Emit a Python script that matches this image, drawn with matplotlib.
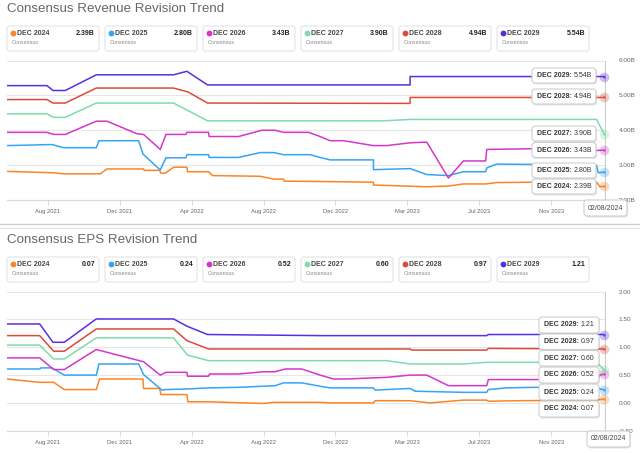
import matplotlib
matplotlib.use('Agg')
import matplotlib.pyplot as plt
from matplotlib.patches import FancyBboxPatch
from matplotlib.lines import Line2D
from matplotlib.transforms import IdentityTransform

# ---------------- data ----------------
SERIES = ['DEC 2024', 'DEC 2025', 'DEC 2026', 'DEC 2027', 'DEC 2028', 'DEC 2029']
COLORS = ['#fa8526', '#35a4f5', '#d636c9', '#7ddcab', '#db4b3a', '#5a2ee0']
X_TICK_LABELS = ['Aug 2021', 'Dec 2021', 'Apr 2022', 'Aug 2022', 'Dec 2022', 'Mar 2023', 'Jul 2023', 'Nov 2023']
X_TICK_POS = [0, 1, 2, 3, 4, 5, 6, 7]
END = 7.73
DATE_LABEL = '02/08/2024'

REV_VALUES = ['2.39B', '2.80B', '3.43B', '3.90B', '4.94B', '5.54B']
EPS_VALUES = ['0.07', '0.24', '0.52', '0.60', '0.97', '1.21']

REV_YTICKS = [2, 3, 4, 5, 6]
REV_YLABELS = ['2.00B', '3.00B', '4.00B', '5.00B', '6.00B']
EPS_YTICKS = [-0.5, 0, 0.5, 1.0, 1.5, 2.0]
EPS_YLABELS = ['-0.50', '0.00', '0.50', '1.00', '1.50', '2.00']

rev_2024_x = [-0.565, 0.083, 0.222, 0.731, 0.824, 1.333, 1.343, 1.556, 1.574, 1.634, 1.750, 1.935, 1.944, 2.236, 2.292, 2.954, 3.139, 3.278, 3.287, 3.787, 4.528, 4.528, 5.269, 5.570, 5.778, 6.088, 6.241, 6.750, 7.630, 7.676, END]
rev_2024_y = [2.82, 2.78, 2.75, 2.75, 2.89, 2.89, 2.85, 2.85, 2.77, 2.77, 2.94, 2.94, 2.81, 2.81, 2.70, 2.68, 2.60, 2.60, 2.54, 2.53, 2.51, 2.43, 2.38, 2.40, 2.46, 2.46, 2.50, 2.51, 2.51, 2.38, 2.39]

rev_2025_x = [-0.565, 0.060, 0.222, 0.676, 0.713, 1.264, 1.324, 1.565, 1.644, 1.921, 1.935, 2.236, 2.245, 2.653, 2.954, 3.139, 3.278, 3.648, 3.787, 3.926, 4.528, 4.528, 5.037, 5.269, 5.570, 5.778, 6.088, 6.102, 6.241, 6.750, 7.630, 7.653, END]
rev_2025_y = [3.56, 3.59, 3.50, 3.50, 3.70, 3.70, 3.32, 2.86, 3.21, 3.21, 3.30, 3.30, 3.22, 3.22, 3.36, 3.36, 3.30, 3.30, 3.22, 3.15, 3.15, 2.87, 2.90, 2.73, 2.70, 2.81, 2.81, 2.92, 3.03, 3.02, 2.99, 2.78, 2.80]

rev_2026_x = [-0.565, -0.009, 0.083, 0.245, 0.676, 0.824, 1.241, 1.333, 1.565, 1.644, 1.921, 1.935, 2.236, 2.245, 2.653, 2.977, 3.162, 3.278, 3.625, 3.787, 3.926, 4.111, 4.528, 4.713, 5.037, 5.269, 5.570, 5.778, 6.088, 6.102, 6.750, 7.630, END]
rev_2026_y = [3.94, 3.94, 3.88, 3.88, 4.26, 4.26, 3.90, 3.88, 3.45, 3.88, 3.88, 3.94, 3.94, 3.82, 3.82, 4.00, 4.00, 3.94, 3.94, 3.82, 3.70, 3.70, 3.56, 3.56, 3.64, 3.66, 2.63, 3.12, 3.12, 3.45, 3.47, 3.42, 3.43]

rev_2027_x = [-0.565, -0.009, 0.083, 0.245, 0.676, 1.750, 2.222, 4.667, 5.037, 7.630, END]
rev_2027_y = [4.47, 4.47, 4.37, 4.37, 4.78, 4.78, 4.27, 4.27, 4.31, 4.31, 3.90]

rev_2028_x = [-0.565, -0.009, 0.074, 0.245, 0.676, 1.750, 1.949, 2.222, 5.037, 5.037, END]
rev_2028_y = [4.88, 4.88, 4.78, 4.78, 5.21, 5.21, 5.10, 4.78, 4.77, 4.94, 4.94]

rev_2029_x = [-0.565, -0.009, 0.074, 0.245, 0.676, 1.750, 1.935, 2.222, 5.037, 5.037, END]
rev_2029_y = [5.28, 5.28, 5.14, 5.14, 5.59, 5.59, 5.69, 5.30, 5.30, 5.54, 5.54]

eps_2024_x = [-0.565, -0.111, 0.083, 0.231, 0.676, 0.722, 1.324, 1.333, 1.556, 1.574, 1.935, 1.949, 2.236, 3.000, 3.139, 3.787, 3.926, 4.528, 4.551, 5.037, 5.315, 5.778, 6.102, 6.125, 6.565, 7.630, END]
eps_2024_y = [0.43, 0.37, 0.37, 0.24, 0.24, 0.43, 0.43, 0.26, 0.26, 0.15, 0.15, 0.02, 0.02, -0.01, 0.01, 0.01, 0.00, 0.00, 0.04, 0.04, 0.00, 0.05, 0.05, 0.03, 0.04, 0.05, 0.07]

eps_2025_x = [-0.565, -0.111, -0.093, 0.060, 0.231, 0.676, 0.713, 1.264, 1.333, 1.588, 1.644, 1.935, 2.236, 2.653, 3.162, 3.278, 3.532, 3.787, 3.926, 4.528, 4.551, 5.037, 5.107, 5.778, 6.102, 6.125, 6.380, 6.750, 7.630, 7.676, END]
eps_2025_y = [0.61, 0.61, 0.63, 0.63, 0.50, 0.50, 0.70, 0.70, 0.51, 0.23, 0.24, 0.25, 0.27, 0.28, 0.31, 0.36, 0.36, 0.30, 0.27, 0.27, 0.23, 0.26, 0.21, 0.19, 0.19, 0.24, 0.27, 0.28, 0.28, 0.25, 0.24]

eps_2026_x = [-0.565, -0.111, 0.083, 0.231, 0.676, 1.333, 1.565, 1.644, 1.935, 1.944, 2.236, 2.250, 2.653, 3.000, 3.162, 3.301, 3.532, 3.787, 3.972, 4.157, 4.713, 5.037, 5.269, 5.570, 6.102, 6.125, 7.630, 7.676, END]
eps_2026_y = [0.81, 0.81, 0.60, 0.60, 0.96, 0.74, 0.50, 0.55, 0.55, 0.48, 0.48, 0.52, 0.52, 0.56, 0.56, 0.61, 0.61, 0.50, 0.43, 0.43, 0.46, 0.50, 0.50, 0.31, 0.31, 0.42, 0.42, 0.50, 0.52]

eps_2027_x = [-0.565, -0.111, 0.083, 0.231, 0.676, 1.750, 1.944, 2.236, 4.713, 5.037, 5.778, 6.102, 7.630, END]
eps_2027_y = [1.04, 1.04, 0.79, 0.79, 1.17, 1.17, 0.86, 0.76, 0.76, 0.70, 0.70, 0.73, 0.73, 0.60]

eps_2028_x = [-0.565, -0.111, 0.083, 0.231, 0.676, 1.750, 1.935, 2.236, 5.037, 5.060, 6.102, 6.125, END]
eps_2028_y = [1.21, 1.21, 0.93, 0.93, 1.33, 1.33, 1.12, 0.97, 0.97, 0.95, 0.95, 0.98, 0.97]

eps_2029_x = [-0.565, -0.111, 0.074, 0.231, 0.676, 1.750, 1.935, 2.222, 3.787, 6.102, 6.125, END]
eps_2029_y = [1.42, 1.42, 1.09, 1.09, 1.51, 1.51, 1.38, 1.23, 1.21, 1.21, 1.23, 1.23]

REV = [(rev_2024_x, rev_2024_y), (rev_2025_x, rev_2025_y), (rev_2026_x, rev_2026_y),
       (rev_2027_x, rev_2027_y), (rev_2028_x, rev_2028_y), (rev_2029_x, rev_2029_y)]
EPS = [(eps_2024_x, eps_2024_y), (eps_2025_x, eps_2025_y), (eps_2026_x, eps_2026_y),
       (eps_2027_x, eps_2027_y), (eps_2028_x, eps_2028_y), (eps_2029_x, eps_2029_y)]

# ---------------- figure ----------------
W, H = 640, 453
plt.rcParams['font.family'] = ['Liberation Sans', 'DejaVu Sans']
fig = plt.figure(figsize=(6.4, 4.53), dpi=100)
fig.patch.set_facecolor('white')
ID = IdentityTransform()


def py(y):
    return H - y


def ftext(x, y, s, **kw):
    return fig.text(x, py(y), s, transform=ID, **kw)


def fbox(x0, y0, w, h, fc='white', ec='#e2e2e2', lw=0.8, r=2.5, alpha=1.0, z=2):
    p = FancyBboxPatch((x0, py(y0 + h)), w, h, boxstyle='round,pad=0,rounding_size=%g' % r,
                       transform=ID, facecolor=fc, edgecolor=ec, linewidth=lw, alpha=alpha, zorder=z)
    fig.add_artist(p)
    return p


def fline(x0, x1, y, color, lw=1.0):
    fig.add_artist(Line2D([x0, x1], [py(y), py(y)], transform=ID, color=color, linewidth=lw))


def make_axes(top, bottom, left=7, right=606):
    return fig.add_axes([left / W, 1 - bottom / H, (right - left) / W, (bottom - top) / H])


def panel(top, bottom, data, ylim, yticks, ylabels):
    ax = make_axes(top, bottom)
    ax.set_xlim(-0.565, 7.76)
    ax.set_ylim(*ylim)
    for (x, y), c in zip(data, COLORS):
        ax.plot(x, y, color=c, lw=1.1, solid_joinstyle='round', zorder=3)
        ax.plot([x[-1]], [y[-1]], 'o', ms=7, color=c, alpha=0.3, mec='none', clip_on=False, zorder=4)
        ax.plot([x[-1]], [y[-1]], 'o', ms=1.6, color=c, mec='none', clip_on=False, zorder=5)
    ax.axvline(7.745, color='#cccccc', lw=0.8, zorder=2, ymin=0, ymax=1)
    ax.set_yticks(yticks)
    ax.set_yticklabels(ylabels)
    ax.yaxis.tick_right()
    ax.grid(axis='y', color='#e6e6e6', lw=0.8)
    ax.set_axisbelow(True)
    ax.set_xticks(X_TICK_POS)
    ax.set_xticklabels(X_TICK_LABELS)
    for s in ['top', 'left', 'right']:
        ax.spines[s].set_visible(False)
    ax.spines['bottom'].set_color('#d9d9d9')
    ax.spines['bottom'].set_linewidth(0.8)
    ax.tick_params(axis='y', length=0, pad=9, labelsize=4.6, labelcolor='#666666')
    ax.tick_params(axis='x', length=3.4, width=0.7, color='#d9d9d9', pad=3, labelsize=4.2, labelcolor='#666666')
    ax.set_facecolor('none')
    return ax


def legend_cards(top, values):
    for i, (name, val, c) in enumerate(zip(SERIES, values, COLORS)):
        x0 = 7 + 98 * i
        fbox(x0, top, 92, 25, ec='#e4e4e4')
        fig.add_artist(Line2D([x0 + 6], [py(top + 7.3)], transform=ID, marker='o', ms=4.2,
                              color=c, mec='none'))
        ftext(x0 + 10, top + 7.3, name, fontsize=5.0, fontweight='bold', color='#444444',
              va='center', ha='left')
        ftext(x0 + 88, top + 7.3, val, fontsize=5.0, fontweight='bold', color='#222222',
              va='center', ha='right')
        ftext(x0 + 5, top + 16.3, 'Consensus', fontsize=3.9, color='#8a8a8a', va='center', ha='left')


def tooltips(x0, w, rows, values, date_box):
    # rows listed top to bottom: DEC 2029 ... DEC 2024
    renderer = fig.canvas.get_renderer()
    for (ytop, h), name, val in zip(rows, SERIES[::-1], values[::-1]):
        fbox(x0 + 1, ytop + 1.5, w, h, fc='#000000', ec='none', alpha=0.10, r=3, z=5)
        fbox(x0, ytop, w, h, fc='white', ec='#cfcfcf', lw=0.8, r=3, z=6)
        t = ftext(x0 + 5, ytop + h / 2, name + ':', fontsize=5.0, fontweight='bold', color='#333333',
                  va='center', ha='left', zorder=7)
        bb = t.get_window_extent(renderer)
        fig.text(bb.x1 + 1.8, py(ytop + h / 2), val, transform=ID, fontsize=5.0, color='#333333',
                 va='center', ha='left', zorder=7)
    dx, dy, dw, dh = date_box
    fbox(dx + 1, dy + 1.5, dw, dh, fc='#000000', ec='none', alpha=0.10, r=3, z=5)
    fbox(dx, dy, dw, dh, fc='white', ec='#cfcfcf', lw=0.8, r=3, z=6)
    ftext(dx + dw / 2, dy + dh / 2, DATE_LABEL, fontsize=5.0, color='#444444', va='center', ha='center', zorder=7)


# ---- revenue panel ----
ftext(7, 9.5, 'Consensus Revenue Revision Trend', fontsize=9.6, color='#666666', va='center', ha='left')
legend_cards(26, REV_VALUES)
ax1 = panel(60.5, 200, REV, (2, 6), REV_YTICKS, REV_YLABELS)

# ---- separators ----
fline(0, W, 224.3, '#cfcfcf', 1.0)
fline(0, W, 228.3, '#e4e4e4', 1.0)

# ---- EPS panel ----
ftext(7, 240, 'Consensus EPS Revision Trend', fontsize=9.6, color='#666666', va='center', ha='left')
legend_cards(257, EPS_VALUES)
ax2 = panel(291.7, 430.7, EPS, (-0.5, 2), EPS_YTICKS, EPS_YLABELS)

# ---- tooltips ----
tooltips(532, 64, [(68, 15), (89, 15), (126, 15), (142.5, 15), (163, 15), (179, 15)],
         REV_VALUES, (584, 200, 43, 16))
tooltips(539, 60, [(317, 16), (334, 15.5), (350.5, 15.5), (367, 16), (384, 16), (401, 16)],
         EPS_VALUES, (587, 431, 43, 16))

fig.savefig('out.png', dpi=100)
